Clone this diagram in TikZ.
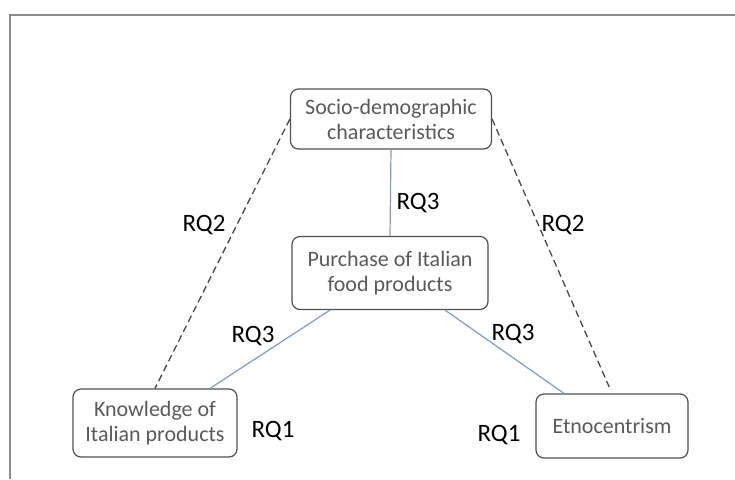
\documentclass[tikz,border=0pt]{standalone}
\usepackage{fontspec}
\setmainfont{Carlito}
\definecolor{boxline}{HTML}{505050}
\definecolor{boxtext}{HTML}{5A5A5A}
\definecolor{linkblue}{HTML}{7F9DC6}
\definecolor{frameline}{HTML}{8C8C8C}

\begin{document}
\begin{tikzpicture} [x=1pt, y=-1pt,
  factor/.style = {draw=boxline, line width=1.2pt, rounded corners=8pt, align=center,
    text=boxtext, inner sep=0pt, font=\fontsize{22}{25}\selectfont},
  rq/.style = {font=\fontsize{25}{28}\selectfont, inner sep=0pt},
  hypo/.style = {draw=boxline!90!black, line width=1.3pt, dash pattern=on 7pt off 4pt},
  link/.style = {draw=linkblue, line width=1.2pt}]
\useasboundingbox (0,0) rectangle (735,479);
\draw[frameline, line width=1.6pt] (10,479) |- (735,15);
\node[factor, minimum width=201pt, minimum height=60pt] (soc) at (391,119) {Socio-demographic\\characteristics};
\node[factor, minimum width=196pt, minimum height=73pt] (buy) at (390,273) {Purchase of Italian\\food products};
\node[factor, minimum width=164pt, minimum height=68pt] (know) at (155,423) {Knowledge of\\Italian products};
\node[factor, minimum width=152pt, minimum height=64pt] (etno) at (612,426) {Etnocentrism};
\node[rq] (rq2l) at (204,225) {RQ2};
\node[rq] (rq2r) at (563,225) {RQ2};
\node[rq] (rq3m) at (418,203) {RQ3};
\node[rq] (rq3l) at (253,336) {RQ3};
\node[rq] (rq3r) at (513,334) {RQ3};
\node[rq] (rq1l) at (273,431) {RQ1};
\node[rq] (rq1r) at (499,435) {RQ1};
\draw[hypo] (soc.west) -- (know.north);
\draw[hypo, shorten >=7pt] (soc.east) -- (etno.north);
\draw[link] (soc.south) -- (buy.north);
\draw[link] ([xshift=-60pt]buy.south) -- ([xshift=55pt]know.north);
\draw[link] ([xshift=55pt]buy.south) -- ([xshift=-48pt]etno.north);
\end{tikzpicture}
\end{document}
